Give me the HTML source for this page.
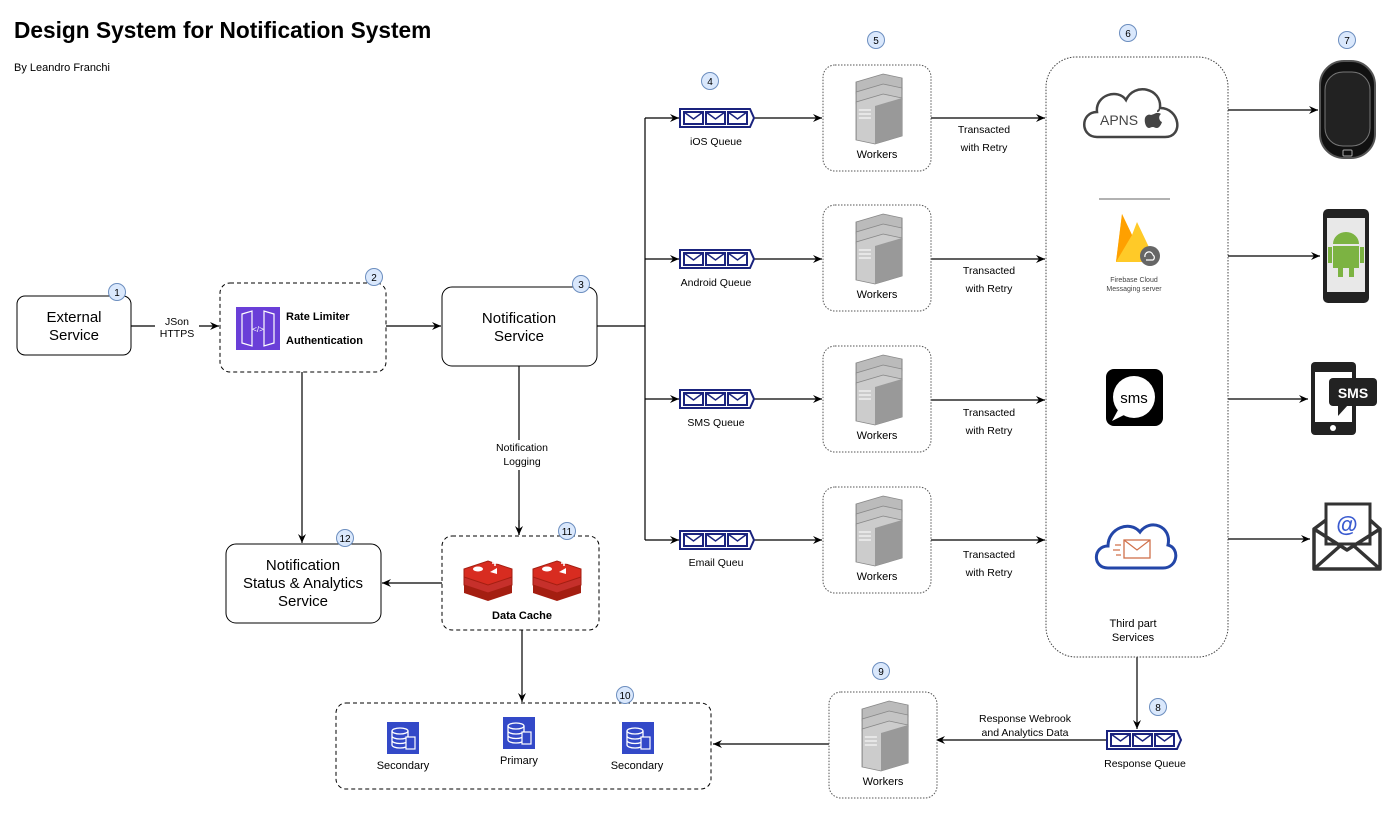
<!DOCTYPE html>
<html><head><meta charset="utf-8"><style>
html,body{margin:0;padding:0;background:#fff}
svg{display:block;font-family:"Liberation Sans",Arial,sans-serif}
</style></head><body>
<svg width="1400" height="826" viewBox="0 0 1400 826" xmlns="http://www.w3.org/2000/svg">
<defs>
<marker id="a" markerWidth="10" markerHeight="10" refX="9" refY="5" orient="auto" markerUnits="userSpaceOnUse"><path d="M0,1 L9,5 L0,9 L3,5 Z" fill="#000"/></marker>
<g id="q">
<path d="M0,0 H70 L74,9 L70,18 H0 Z" fill="#fff" stroke="#1a237e" stroke-width="2"/>
<g fill="#fff" stroke="#1a237e" stroke-width="2"><rect x="4" y="3" width="19" height="12"/><rect x="26" y="3" width="19" height="12"/><rect x="48" y="3" width="19" height="12"/></g>
<path d="M4,3 L13.5,10 L23,3 M26,3 L35.5,10 L45,3 M48,3 L57.5,10 L67,3" fill="none" stroke="#1a237e" stroke-width="1.5"/>
</g>
<g id="srv">
<path d="M-14,-30 L6,-38 L20,-34 L20,-22 L0,-14 L-14,-18 Z" fill="#bbb" stroke="#888" stroke-width="0.8"/>
<path d="M-14,-20 L6,-28 L20,-24 L20,-12 L0,-4 L-14,-8 Z" fill="#c4c4c4" stroke="#888" stroke-width="0.8"/>
<path d="M-14,-10 L6,-18 L20,-14 L20,24 L0,32 L-14,28 Z" fill="#ccc" stroke="#888" stroke-width="0.8"/>
<path d="M0,-6 L20,-14 L20,24 L0,32 Z" fill="#999"/>
<path d="M-12,-2 H-3 M-12,2 H-3 M-12,6 H-3" stroke="#fff" stroke-width="1"/>
</g>
<g id="srvbox"><rect x="0" y="0" width="108" height="106" rx="12" fill="#fff" stroke="#555" stroke-dasharray="1.5 1.5"/><use href="#srv" transform="translate(52,47) scale(1.35,1)"/><text x="54" y="93" font-size="11" text-anchor="middle">Workers</text></g>
<g id="db"><rect x="0" y="0" width="32" height="32" fill="#3349c8"/><ellipse cx="13" cy="9" rx="8" ry="3" fill="none" stroke="#fff" stroke-width="1.3"/><path d="M5,9 V23 A8,3 0 0 0 21,23 V9 M5,14 A8,3 0 0 0 21,14 M5,18.5 A8,3 0 0 0 21,18.5" fill="none" stroke="#fff" stroke-width="1.3"/><rect x="19" y="15" width="9" height="12" fill="#3349c8" stroke="#fff" stroke-width="1.2"/></g>
<g id="redis"><path d="M0,22 L24,14 L48,22 L48,30 L24,38 L0,30Z" fill="#a41e11"/><path d="M0,14 L24,6 L48,14 L48,22 L24,30 L0,22Z" fill="#c6302b" stroke="#a41e11"/><path d="M0,6 L24,-2 L48,6 L48,14 L24,22 L0,14Z" fill="#d82c20" stroke="#a41e11"/><ellipse cx="14" cy="6" rx="5" ry="2.5" fill="#fff"/><path d="M26,9 L33,5 L33,11Z" fill="#fff"/><path d="M28,0 h6 M31,-3 v6" stroke="#fff" stroke-width="1.5"/></g>
<g id="b"><circle r="8.5" fill="#dae8fc" stroke="#6c8ebf"/></g>
</defs>

<text x="14" y="38" font-size="22.7" font-weight="bold">Design System for Notification System</text>
<text x="14" y="71" font-size="11">By Leandro Franchi</text>

<g font-size="15" text-anchor="middle">
<rect x="17" y="296" width="114" height="59" rx="8" fill="#fff" stroke="#000"/>
<text x="74" y="322">External</text><text x="74" y="340">Service</text>
<rect x="442" y="287" width="155" height="79" rx="10" fill="#fff" stroke="#000"/>
<text x="519" y="323">Notification</text><text x="519" y="341">Service</text>
<rect x="226" y="544" width="155" height="79" rx="10" fill="#fff" stroke="#000"/>
<text x="303" y="570">Notification</text><text x="303" y="588">Status &amp; Analytics</text><text x="303" y="606">Service</text>
</g>

<rect x="220" y="283" width="166" height="89" rx="10" fill="#fff" stroke="#000" stroke-dasharray="4 3"/>
<rect x="236" y="307" width="44" height="43" fill="#6a3fd8"/>
<path d="M242,314 L252,311 V346 L242,343Z M274,314 L264,311 V346 L274,343Z" fill="none" stroke="#fff" stroke-width="1.2"/>
<text x="258" y="332" font-size="8" fill="#fff" text-anchor="middle">&lt;/&gt;</text>
<text x="286" y="320" font-size="11" font-weight="bold">Rate Limiter</text>
<text x="286" y="344" font-size="11" font-weight="bold">Authentication</text>

<rect x="442" y="536" width="157" height="94" rx="10" fill="#fff" stroke="#000" stroke-dasharray="4 3"/>
<use href="#redis" x="464" y="563"/><use href="#redis" x="533" y="563"/>
<text x="522" y="619" font-size="11" font-weight="bold" text-anchor="middle">Data Cache</text>

<rect x="336" y="703" width="375" height="86" rx="10" fill="#fff" stroke="#000" stroke-dasharray="4 3"/>
<use href="#db" x="387" y="722"/><use href="#db" x="503" y="717"/><use href="#db" x="622" y="722"/>
<g font-size="11" text-anchor="middle"><text x="403" y="769">Secondary</text><text x="519" y="764">Primary</text><text x="637" y="769">Secondary</text></g>

<g stroke="#000" stroke-width="1.2" fill="none">
<path d="M131,326 H219" marker-end="url(#a)"/>
<path d="M386,326 H441" marker-end="url(#a)"/>
<path d="M302,372 V543" marker-end="url(#a)"/>
<path d="M519,366 V441 M519,470 V535" />
<path d="M519,520 V535" marker-end="url(#a)"/>
<path d="M442,583 H382" marker-end="url(#a)"/>
<path d="M522,630 V702" marker-end="url(#a)"/>
<path d="M597,326 H645 M645,118 V540"/>
<path d="M645,118 H679" marker-end="url(#a)"/>
<path d="M645,259 H679" marker-end="url(#a)"/>
<path d="M645,399 H679" marker-end="url(#a)"/>
<path d="M645,540 H679" marker-end="url(#a)"/>
<path d="M754,118 H822" marker-end="url(#a)"/>
<path d="M754,259 H822" marker-end="url(#a)"/>
<path d="M754,399 H822" marker-end="url(#a)"/>
<path d="M754,540 H822" marker-end="url(#a)"/>
<path d="M931,118 H1045" marker-end="url(#a)"/>
<path d="M931,259 H1045" marker-end="url(#a)"/>
<path d="M931,400 H1045" marker-end="url(#a)"/>
<path d="M931,540 H1045" marker-end="url(#a)"/>
<path d="M1228,110 H1318" marker-end="url(#a)"/>
<path d="M1228,256 H1320" marker-end="url(#a)"/>
<path d="M1228,399 H1308" marker-end="url(#a)"/>
<path d="M1228,539 H1310" marker-end="url(#a)"/>
<path d="M1137,657 V729" marker-end="url(#a)"/>
<path d="M1107,740 H936" marker-end="url(#a)"/>
<path d="M829,744 H713" marker-end="url(#a)"/>
</g>
<g font-size="10.5" text-anchor="middle" fill="#000">
<rect x="155" y="312" width="44" height="28" fill="#fff"/>
<text x="177" y="325">JSon</text><text x="177" y="337">HTTPS</text>
<rect x="488" y="440" width="64" height="30" fill="#fff"/>
<text x="522" y="451">Notification</text><text x="522" y="465">Logging</text>
<text x="984" y="133">Transacted</text><text x="984" y="151">with Retry</text>
<text x="989" y="274">Transacted</text><text x="989" y="292">with Retry</text>
<text x="989" y="416">Transacted</text><text x="989" y="434">with Retry</text>
<text x="989" y="558">Transacted</text><text x="989" y="576">with Retry</text>
<text x="1025" y="722">Response Webrook</text><text x="1025" y="736">and Analytics Data</text>
<text x="716" y="145">iOS Queue</text><text x="716" y="286">Android Queue</text><text x="716" y="426">SMS Queue</text><text x="716" y="566">Email Queu</text>
<text x="1145" y="767">Response Queue</text>
</g>

<use href="#q" x="680" y="109"/><use href="#q" x="680" y="250"/><use href="#q" x="680" y="390"/><use href="#q" x="680" y="531"/><use href="#q" x="1107" y="731"/>

<use href="#srvbox" x="823" y="65"/><use href="#srvbox" x="823" y="205"/><use href="#srvbox" x="823" y="346"/><use href="#srvbox" x="823" y="487"/><use href="#srvbox" x="829" y="692"/>

<rect x="1046" y="57" width="182" height="600" rx="30" fill="#fff" stroke="#444" stroke-dasharray="1.5 1.5"/>
<path d="M1097,137 C1080,137 1080,112 1097,112 C1095,95 1118,88 1126,100 C1134,82 1162,88 1160,108 C1180,108 1184,137 1165,137 Z" fill="#fff" stroke="#444" stroke-width="2.5"/>
<text x="1100" y="125" font-size="14" fill="#444">APNS</text>
<path d="M1154,114 c3,-2 6,-1 7,0 c-3,2 -2,7 1,8 c-1,3 -3,6 -5,6 c-2,0 -3,-1 -4,-1 c-2,0 -3,1 -4,1 c-3,0 -5,-6 -4,-10 c1,-3 4,-4 6,-3 z M1157,112 c0,-2 1,-3 3,-3 c0,2 -1,3 -3,3z" fill="#444"/>
<line x1="1099" y1="199" x2="1170" y2="199" stroke="#666"/>
<path d="M1116,262 L1122,214 L1132,235 L1137,222 L1156,262 Z" fill="#ffca28"/>
<path d="M1116,262 L1122,214 L1132,235Z" fill="#ffa000"/>
<circle cx="1150" cy="256" r="10" fill="#666"/>
<path d="M1145,257 a4,4 0 0 1 8,-2 a3,3 0 0 1 0,5 h-7" fill="none" stroke="#fff" stroke-width="1.2"/>
<text x="1134" y="282" font-size="7" text-anchor="middle" fill="#444">Firebase Cloud</text>
<text x="1134" y="291" font-size="7" text-anchor="middle" fill="#444">Messaging server</text>
<rect x="1106" y="369" width="57" height="57" rx="8" fill="#000"/>
<circle cx="1134" cy="397" r="21" fill="#fff"/><path d="M1118,410 L1112,421 L1126,414Z" fill="#fff"/>
<text x="1134" y="403" font-size="15" text-anchor="middle">sms</text>
<path d="M1108,568 C1092,568 1093,546 1108,546 C1108,528 1130,520 1140,532 C1150,518 1172,526 1168,545 C1180,548 1178,568 1163,568 Z" fill="#fff" stroke="#2346a8" stroke-width="3"/>
<rect x="1124" y="540" width="26" height="18" fill="#fff" stroke="#d0704a" stroke-width="1.3"/>
<path d="M1124,540 L1137,550 L1150,540 M1115,545 h6 M1113,550 h7 M1116,555 h5" fill="none" stroke="#d0704a" stroke-width="1.2"/>
<text x="1133" y="627" font-size="11" text-anchor="middle">Third part</text>
<text x="1133" y="641" font-size="11" text-anchor="middle">Services</text>

<rect x="1320" y="61" width="55" height="97" rx="24" fill="#111" stroke="#555" stroke-width="2"/>
<rect x="1325" y="72" width="45" height="74" rx="18" fill="#222" stroke="#777"/>
<rect x="1343" y="150" width="9" height="6" rx="1" fill="none" stroke="#aaa"/>
<rect x="1323" y="209" width="46" height="94" rx="5" fill="#222"/>
<rect x="1327" y="218" width="38" height="74" fill="#e8e8e8"/>
<path d="M1333,244 a13,12 0 0 1 26,0Z M1333,246 h26 v22 h-26Z M1338,268 h5 v9 h-5Z M1349,268 h5 v9 h-5Z M1328,247 h4 v16 h-4Z M1360,247 h4 v16 h-4Z" fill="#7cb342"/>
<rect x="1311" y="362" width="45" height="73" rx="4" fill="#222"/>
<rect x="1315" y="372" width="37" height="50" fill="#fff"/>
<circle cx="1333" cy="428" r="3" fill="#fff"/>
<rect x="1329" y="378" width="48" height="28" rx="4" fill="#222"/>
<path d="M1338,405 L1338,416 L1348,405Z" fill="#222"/>
<text x="1353" y="398" font-size="14" font-weight="bold" fill="#fff" text-anchor="middle">SMS</text>
<rect x="1326" y="504" width="44" height="40" fill="#fff" stroke="#333" stroke-width="3"/>
<path d="M1314,529 L1326,520 M1370,520 L1380,529 M1314,529 V569 H1380 V529 L1347,550 Z M1314,569 L1340,546 M1380,569 L1354,546" fill="none" stroke="#333" stroke-width="3.5" stroke-linejoin="round"/>
<text x="1347" y="532" font-size="22" font-weight="bold" fill="#3a5bd0" text-anchor="middle">@</text>

<g font-size="10" text-anchor="middle">
<use href="#b" x="117" y="292"/><text x="117" y="296">1</text>
<use href="#b" x="374" y="277"/><text x="374" y="281">2</text>
<use href="#b" x="581" y="284"/><text x="581" y="288">3</text>
<use href="#b" x="710" y="81"/><text x="710" y="85">4</text>
<use href="#b" x="876" y="40"/><text x="876" y="44">5</text>
<use href="#b" x="1128" y="33"/><text x="1128" y="37">6</text>
<use href="#b" x="1347" y="40"/><text x="1347" y="44">7</text>
<use href="#b" x="1158" y="707"/><text x="1158" y="711">8</text>
<use href="#b" x="881" y="671"/><text x="881" y="675">9</text>
<use href="#b" x="625" y="695"/><text x="625" y="699">10</text>
<use href="#b" x="567" y="531"/><text x="567" y="535">11</text>
<use href="#b" x="345" y="538"/><text x="345" y="542">12</text>
</g>
</svg>
</body></html>
